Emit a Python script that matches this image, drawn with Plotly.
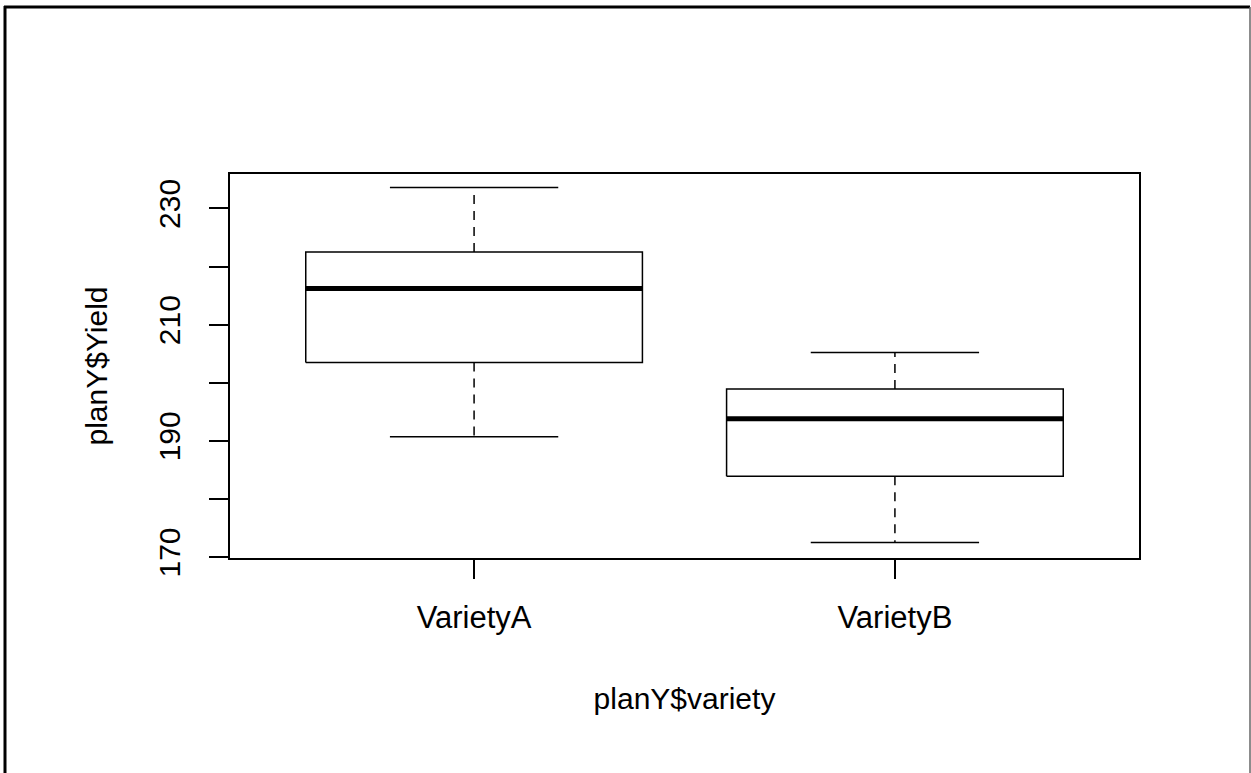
import plotly.graph_objects as go

# ---- data ----
categories = ["VarietyA", "VarietyB"]
positions = [1, 2]
lower_whisker = [190.7, 172.5]
q1_values = [203.5, 183.9]
median_values = [216.2, 193.8]
q3_values = [222.5, 198.9]
upper_whisker = [233.6, 205.2]

y_tick_values = [170, 180, 190, 200, 210, 220, 230]
y_tick_labels = ["170", "", "190", "", "210", "", "230"]

x_title = "planY$variety"
y_title = "planY$Yield"

BOX_W = 0.8
CAP_W = 0.4
FONT = "Liberation Sans, Arial, sans-serif"
FS = 30

fig = go.Figure()

for c, lo, a, m, b, hi in zip(positions, lower_whisker, q1_values,
                               median_values, q3_values, upper_whisker):
    # whiskers (dashed)
    fig.add_trace(go.Scatter(x=[c, c, None, c, c], y=[b, hi, None, a, lo],
                             mode="lines", line=dict(color="black", width=1.5, dash="9px,7px"),
                             hoverinfo="skip", showlegend=False))
    # caps
    fig.add_trace(go.Scatter(x=[c - CAP_W / 2, c + CAP_W / 2, None, c - CAP_W / 2, c + CAP_W / 2],
                             y=[hi, hi, None, lo, lo],
                             mode="lines", line=dict(color="black", width=1.5),
                             hoverinfo="skip", showlegend=False))
    # box
    fig.add_trace(go.Scatter(x=[c - BOX_W / 2, c + BOX_W / 2, c + BOX_W / 2, c - BOX_W / 2, c - BOX_W / 2],
                             y=[a, a, b, b, a],
                             mode="lines", line=dict(color="black", width=1.5),
                             fill="toself", fillcolor="white",
                             hoverinfo="skip", showlegend=False))
    # median
    fig.add_trace(go.Scatter(x=[c - BOX_W / 2, c + BOX_W / 2], y=[m, m],
                             mode="lines", line=dict(color="black", width=5),
                             hoverinfo="skip", showlegend=False))

W, H = 1251, 773
ML, MR, MT, MB = 230, 112, 174, 215
pw = W - ML - MR
ph = H - MT - MB


def px_to_paper_x(px):
    return (px - ML) / pw


def px_to_paper_y(py):
    return (H - MB - py) / ph


fig.update_layout(
    width=W, height=H,
    margin=dict(l=ML, r=MR, t=MT, b=MB, pad=0),
    paper_bgcolor="white", plot_bgcolor="white",
    font=dict(family=FONT, size=FS, color="black"),
    showlegend=False,
    xaxis=dict(range=[0.42, 2.58], tickmode="array", tickvals=positions, ticktext=categories,
               showgrid=False, zeroline=False, showline=True, mirror=True,
               linecolor="black", linewidth=1.5, ticks="outside", ticklen=19,
               tickwidth=1.5, tickcolor="black", ticklabelstandoff=12,
               tickfont=dict(size=31),
               title=dict(text=x_title, standoff=54, font=dict(size=FS))),
    yaxis=dict(range=[169.83, 235.93], tickmode="array", tickvals=y_tick_values,
               ticktext=y_tick_labels, tickangle=-90,
               showgrid=False, zeroline=False, showline=True, mirror=True,
               linecolor="black", linewidth=1.5, ticks="outside", ticklen=19,
               tickwidth=1.5, tickcolor="black", ticklabelstandoff=17,
               title=dict(text=y_title, standoff=37, font=dict(size=FS))),
    shapes=[
        dict(type="line", xref="paper", yref="paper",
             x0=px_to_paper_x(5), x1=px_to_paper_x(5), y0=px_to_paper_y(6), y1=px_to_paper_y(800),
             line=dict(color="black", width=3)),
        dict(type="line", xref="paper", yref="paper",
             x0=px_to_paper_x(4), x1=px_to_paper_x(1250), y0=px_to_paper_y(7), y1=px_to_paper_y(7),
             line=dict(color="black", width=3)),
        dict(type="line", xref="paper", yref="paper",
             x0=px_to_paper_x(1250), x1=px_to_paper_x(1250), y0=px_to_paper_y(7), y1=px_to_paper_y(800),
             line=dict(color="#666666", width=1.5)),
    ],
)

fig.write_html("out.html", config={"displayModeBar": False},
               post_script="document.body.style.margin='0';")
